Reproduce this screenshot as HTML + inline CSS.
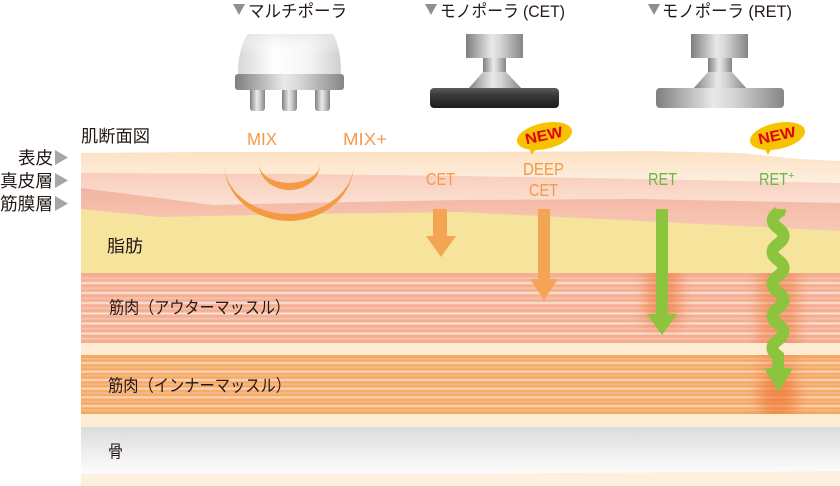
<!DOCTYPE html>
<html><head><meta charset="utf-8"><style>
html,body{margin:0;padding:0;background:#fff;}
svg{display:block}
.jp{font-family:"Liberation Sans","Noto Sans CJK JP",sans-serif;fill:#231815}
.lat{font-family:"Liberation Sans",sans-serif}
</style></head><body>
<svg width="840" height="486" viewBox="0 0 840 486" xmlns="http://www.w3.org/2000/svg">
<defs>
  <linearGradient id="gEpi" gradientUnits="userSpaceOnUse" x1="0" y1="152" x2="0" y2="185">
    <stop offset="0" stop-color="#fde2c4"/><stop offset="1" stop-color="#fdf0e1"/>
  </linearGradient>
  <linearGradient id="gDerm" gradientUnits="userSpaceOnUse" x1="0" y1="173" x2="0" y2="206">
    <stop offset="0" stop-color="#f8cdbc"/><stop offset="1" stop-color="#fbe1d4"/>
  </linearGradient>
  <linearGradient id="gFas" gradientUnits="userSpaceOnUse" x1="0" y1="188" x2="0" y2="232">
    <stop offset="0" stop-color="#f3b5a0"/><stop offset="1" stop-color="#f7c9b7"/>
  </linearGradient>
  <linearGradient id="gBone" x1="0" y1="0" x2="0" y2="1">
    <stop offset="0" stop-color="#dcdcdc"/><stop offset="1" stop-color="#fdfdfd"/>
  </linearGradient>
  <linearGradient id="gDome" x1="0" y1="0" x2="1" y2="0">
    <stop offset="0" stop-color="#d6d6d6"/><stop offset="0.35" stop-color="#ffffff"/>
    <stop offset="0.7" stop-color="#f4f4f4"/><stop offset="1" stop-color="#cfcfcf"/>
  </linearGradient>
  <linearGradient id="gDomeV" x1="0" y1="0" x2="0" y2="1">
    <stop offset="0" stop-color="#e6e6e6" stop-opacity="0.7"/><stop offset="0.5" stop-color="#ffffff" stop-opacity="0"/>
    <stop offset="1" stop-color="#ffffff" stop-opacity="0"/>
  </linearGradient>
  <linearGradient id="gMetal" x1="0" y1="0" x2="1" y2="0">
    <stop offset="0" stop-color="#7e7e7e"/><stop offset="0.45" stop-color="#e9e9e9"/>
    <stop offset="0.6" stop-color="#d6d6d6"/><stop offset="1" stop-color="#858585"/>
  </linearGradient>
  <linearGradient id="gDark" x1="0" y1="0" x2="0" y2="1">
    <stop offset="0" stop-color="#5c5c5c"/><stop offset="0.35" stop-color="#3a3a3a"/>
    <stop offset="1" stop-color="#1e1c1c"/>
  </linearGradient>
  <filter id="fb" x="-5%" y="-100%" width="110%" height="300%"><feGaussianBlur stdDeviation="0.45"/></filter>
  <filter id="fg" x="-100%" y="-100%" width="300%" height="300%"><feGaussianBlur stdDeviation="7"/></filter>
  <clipPath id="cOut"><rect x="81" y="273" width="759" height="70"/></clipPath>
  <clipPath id="cIn"><rect x="81" y="355" width="759" height="59"/></clipPath>
</defs>

<!-- skin layers -->
<polygon fill="url(#gEpi)" points="81,153 200,152 460,152 650,151 740,153 760,155 800,159 840,161 840,250 81,250"/>
<polygon fill="url(#gDerm)" points="81,173 300,174 460,176 640,179 840,183 840,250 81,250"/>
<polygon fill="url(#gFas)" points="81,188 213,205 300,203 460,200 640,199 840,203 840,250 81,250"/>
<polygon fill="#f6e39c" points="81,209 160,217 300,214 460,212 840,231 840,274 81,274"/>

<!-- outer muscle -->
<rect x="81" y="273" width="759" height="70" fill="#f4ae92"/>
<g fill="#fde6da" filter="url(#fb)">
  <rect x="81" y="282" width="759" height="2"/>
  <rect x="81" y="292" width="759" height="2"/>
  <rect x="81" y="302" width="759" height="2"/>
  <rect x="81" y="312.5" width="759" height="2"/>
  <rect x="81" y="322.5" width="759" height="2"/>
  <rect x="81" y="332.5" width="759" height="2"/>
</g>
<g fill="#fbd3c2" opacity="0.8" filter="url(#fb)">
  <rect x="81" y="277.5" width="759" height="1.4"/>
  <rect x="81" y="287.5" width="759" height="1.4"/>
  <rect x="81" y="297.5" width="759" height="1.4"/>
  <rect x="81" y="307.5" width="759" height="1.4"/>
  <rect x="81" y="318" width="759" height="1.4"/>
  <rect x="81" y="328" width="759" height="1.4"/>
  <rect x="81" y="338" width="759" height="1.4"/>
</g>
<rect x="81" y="343" width="759" height="12" fill="#fdebd2"/>
<!-- inner muscle -->
<rect x="81" y="355" width="759" height="59" fill="#f5a862"/>
<g fill="#fcdcc8" filter="url(#fb)">
  <rect x="81" y="362" width="759" height="2"/>
  <rect x="81" y="370.7" width="759" height="2"/>
  <rect x="81" y="379" width="759" height="2"/>
  <rect x="81" y="387.7" width="759" height="2"/>
  <rect x="81" y="396.3" width="759" height="2"/>
  <rect x="81" y="405" width="759" height="2"/>
</g>
<g fill="#f9c8a3" opacity="0.8" filter="url(#fb)">
  <rect x="81" y="358.3" width="759" height="1.3"/>
  <rect x="81" y="366.6" width="759" height="1.3"/>
  <rect x="81" y="375.1" width="759" height="1.3"/>
  <rect x="81" y="383.6" width="759" height="1.3"/>
  <rect x="81" y="392.3" width="759" height="1.3"/>
  <rect x="81" y="400.9" width="759" height="1.3"/>
  <rect x="81" y="409.5" width="759" height="1.3"/>
</g>
<rect x="81" y="414" width="759" height="13" fill="#fdecd4"/>
<!-- bone -->
<polygon fill="url(#gBone)" points="81,427 840,427 840,471 420,474 81,474"/>
<polygon fill="#fdf1de" points="81,474 420,474 840,471 840,486 81,486"/>

<!-- glows -->
<g clip-path="url(#cOut)" filter="url(#fg)">
  <rect x="646" y="268" width="34" height="58" fill="#ec7434" opacity="0.55"/>
  <rect x="758" y="268" width="40" height="80" fill="#ec7434" opacity="0.45"/>
</g>
<g clip-path="url(#cIn)" filter="url(#fg)">
  <ellipse cx="778" cy="398" rx="20" ry="22" fill="#ec7434" opacity="0.6"/>
  <rect x="760" y="352" width="36" height="40" fill="#ec7434" opacity="0.3"/>
</g>

<!-- MIX arcs -->
<path d="M224,163 A65,58 0 0 0 354,163 A65,51 0 0 1 224,163 Z" fill="#f39a42"/>
<path d="M259,164 A30.5,26 0 0 0 320,164 A30.5,19 0 0 1 259,164 Z" fill="#f39a42"/>

<!-- orange arrows -->
<rect x="433" y="209" width="14" height="28" fill="#f4a553"/>
<polygon points="426,236 456,236 441,257" fill="#f4a553"/>
<rect x="538" y="209" width="12" height="71" fill="#f4a553"/>
<polygon points="530,279 558,279 544,300" fill="#f4a553"/>

<!-- green arrows -->
<rect x="656" y="209" width="12" height="106" fill="#8cc43e"/>
<polygon points="647,314 677,314 662,335" fill="#8cc43e"/>
<path d="M779,209 L779,212 Q767,220 778,228 T778,244 T778,260 T778,276 T778,292 T778,308 T778,324 T778,340 T778,356 L778,369" fill="none" stroke="#8cc43e" stroke-width="12"/>
<rect x="772" y="209" width="14" height="4" fill="#8cc43e"/>
<polygon points="764,368 793,368 778.5,392" fill="#8cc43e"/>

<!-- devices: multipolar -->
<path d="M248,34 L333,34 Q341,48 341,74 L238,74 Q238,48 248,34 Z" fill="url(#gDome)"/>
<path d="M248,34 L333,34 Q341,48 341,74 L238,74 Q238,48 248,34 Z" fill="url(#gDomeV)"/>
<rect x="250" y="86" width="15" height="25" rx="3" fill="url(#gMetal)"/>
<rect x="282" y="86" width="15" height="25" rx="3" fill="url(#gMetal)"/>
<rect x="315" y="86" width="15" height="25" rx="3" fill="url(#gMetal)"/>
<rect x="235" y="74" width="109" height="16" rx="3" fill="url(#gMetal)"/>

<!-- CET device -->
<rect x="466" y="34" width="57" height="24" fill="url(#gMetal)"/>
<rect x="483" y="58" width="23" height="15" fill="url(#gMetal)"/>
<polygon points="483,72 506,72 522,89 468,89" fill="url(#gMetal)"/>
<rect x="430" y="88" width="129" height="20" rx="4" fill="url(#gDark)"/>

<!-- RET device -->
<rect x="691" y="34" width="57" height="24" fill="url(#gMetal)"/>
<rect x="708" y="58" width="24" height="15" fill="url(#gMetal)"/>
<polygon points="708,72 732,72 747,89 693,89" fill="url(#gMetal)"/>
<rect x="656" y="88" width="128" height="20" rx="4" fill="url(#gMetal)"/>

<!-- titles -->
<polygon points="233,4 245,4 239,15" fill="#8f8f8f"/>
<text class="jp" x="248" y="17" font-size="17" textLength="99" lengthAdjust="spacingAndGlyphs">マルチポーラ</text>
<polygon points="425,4 437,4 431,15" fill="#8f8f8f"/>
<text class="jp" x="440" y="17" font-size="17" textLength="125" lengthAdjust="spacingAndGlyphs">モノポーラ (CET)</text>
<polygon points="648,4 660,4 654,15" fill="#8f8f8f"/>
<text class="jp" x="662" y="17" font-size="17" textLength="130" lengthAdjust="spacingAndGlyphs">モノポーラ (RET)</text>

<!-- NEW badges -->
<g>
  <polygon points="527,144 538,146 532,155" fill="#f7c300"/>
  <ellipse cx="544.5" cy="136" rx="28" ry="13" transform="rotate(-12 544.5 136)" fill="#f7c300"/>
  <text class="lat" x="544" y="140.5" font-size="15" font-weight="bold" fill="#e60012" text-anchor="middle" textLength="38" lengthAdjust="spacingAndGlyphs" transform="rotate(-12 544 136)">NEW</text>
</g>
<g>
  <polygon points="762,144 773,146 768,155" fill="#f7c300"/>
  <ellipse cx="777.5" cy="136" rx="28" ry="13" transform="rotate(-12 777.5 136)" fill="#f7c300"/>
  <text class="lat" x="777" y="140.5" font-size="15" font-weight="bold" fill="#e60012" text-anchor="middle" textLength="38" lengthAdjust="spacingAndGlyphs" transform="rotate(-12 777 136)">NEW</text>
</g>

<!-- left labels -->
<text class="jp" x="81" y="142" font-size="17" textLength="69" lengthAdjust="spacingAndGlyphs">肌断面図</text>
<text class="jp" x="18" y="164" font-size="17.5" textLength="35" lengthAdjust="spacingAndGlyphs">表皮</text>
<text class="jp" x="0" y="187" font-size="17.5" textLength="53" lengthAdjust="spacingAndGlyphs">真皮層</text>
<text class="jp" x="0" y="210" font-size="17.5" textLength="53" lengthAdjust="spacingAndGlyphs">筋膜層</text>
<polygon points="55,150 68,157.5 55,165" fill="#a6a6a6"/>
<polygon points="55,173 68,180.5 55,188" fill="#a6a6a6"/>
<polygon points="55,196 68,203.5 55,211" fill="#a6a6a6"/>

<!-- layer labels -->
<text class="jp" x="107" y="252" font-size="17" textLength="36" lengthAdjust="spacingAndGlyphs">脂肪</text>
<text class="jp" x="109" y="313.5" font-size="17" textLength="181" lengthAdjust="spacingAndGlyphs">筋肉（アウターマッスル）</text>
<text class="jp" x="108" y="391.5" font-size="17" textLength="183" lengthAdjust="spacingAndGlyphs">筋肉（インナーマッスル）</text>
<text class="jp" x="108" y="457.5" font-size="17" textLength="15" lengthAdjust="spacingAndGlyphs">骨</text>

<!-- orange / green labels -->
<g class="lat" font-size="17.5">
  <text x="247" y="145" fill="#f39a4a" textLength="30" lengthAdjust="spacingAndGlyphs">MIX</text>
  <text x="343" y="145" fill="#f39a4a" textLength="44" lengthAdjust="spacingAndGlyphs">MIX+</text>
  <text x="426" y="185" fill="#f39a4a" textLength="29" lengthAdjust="spacingAndGlyphs">CET</text>
  <text x="523" y="175" fill="#f39a4a" textLength="41" lengthAdjust="spacingAndGlyphs">DEEP</text>
  <text x="529" y="196" fill="#f39a4a" textLength="29" lengthAdjust="spacingAndGlyphs">CET</text>
  <text x="648" y="185" fill="#6cb648" textLength="29" lengthAdjust="spacingAndGlyphs">RET</text>
  <text x="759" y="185" fill="#6cb648" textLength="29" lengthAdjust="spacingAndGlyphs">RET</text>
  <text x="788" y="179" fill="#6cb648" font-size="11">+</text>
</g>
</svg>
</body></html>
